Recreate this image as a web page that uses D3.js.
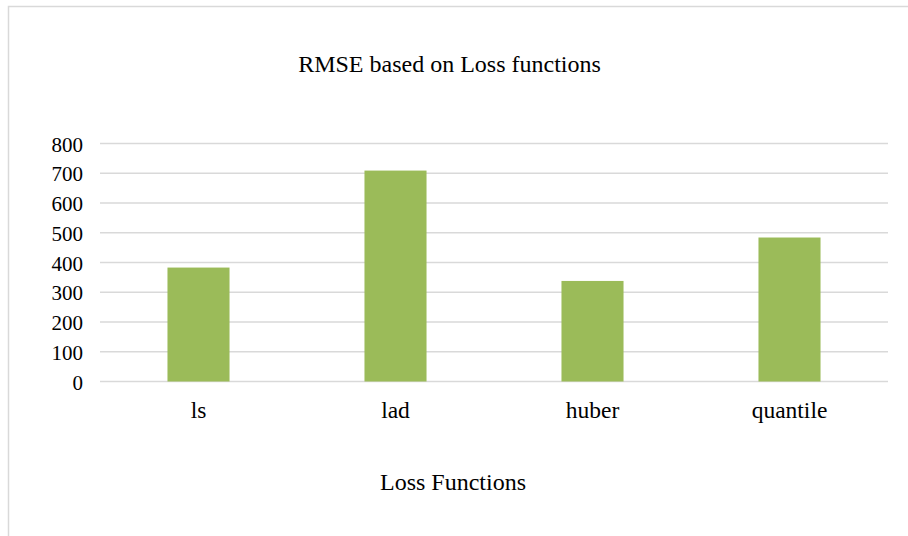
<!DOCTYPE html>
<html>
<head>
<meta charset="utf-8">
<script src="https://cdn.jsdelivr.net/npm/d3@7"></script>
<style>
  html, body { margin: 0; padding: 0; background: #fff; }
  svg { display: block; }
  svg text { font-family: "Liberation Serif", "Times New Roman", Times, "DejaVu Serif", serif; fill: #000; }
</style>
</head>
<body>
<svg id="chart" width="908" height="536"></svg>
<script>
// RMSE per loss function
const categories = ["ls", "lad", "huber", "quantile"];
const rmseValues = [383, 709, 338, 484];
const yTicks = [0, 100, 200, 300, 400, 500, 600, 700, 800];

const chartTitle = "RMSE based on Loss functions";
const xAxisTitle = "Loss Functions";

const serif = "'Liberation Serif', 'Times New Roman', Times, 'DejaVu Serif', serif";
const plot = { left: 100, right: 888, top: 143.5, bottom: 381.5 };

const svg = d3.select("#chart");

// chart area outline (continues past right and bottom edges)
svg.append("rect")
  .attr("x", 8.5).attr("y", 6.5)
  .attr("width", 1000).attr("height", 1000)
  .attr("fill", "#fff")
  .attr("stroke", "#d9d9d9")
  .attr("stroke-width", 1.5);

const x = d3.scaleBand()
  .domain(categories)
  .range([plot.left, plot.right])
  .paddingInner(0.685)
  .paddingOuter(0.3425);

const y = d3.scaleLinear()
  .domain([0, 800])
  .range([plot.bottom, plot.top]);

// horizontal gridlines
svg.append("g")
  .selectAll("line")
  .data(yTicks)
  .join("line")
  .attr("x1", plot.left).attr("x2", plot.right)
  .attr("y1", d => y(d)).attr("y2", d => y(d))
  .attr("stroke", "#d9d9d9")
  .attr("stroke-width", 1.5);

// y tick labels
const yAxis = d3.axisLeft(y).tickValues(yTicks).tickSize(0).tickPadding(0);
const gy = svg.append("g")
  .attr("transform", "translate(83,0)")
  .call(yAxis)
  .attr("font-family", serif)
  .attr("font-size", 21);
gy.select(".domain").remove();
gy.selectAll("text").style("font-family", serif).attr("fill", "#000").attr("dy", "0.36em");

// bars
svg.append("g")
  .selectAll("rect")
  .data(categories.map((c, i) => ({ c, v: rmseValues[i] })))
  .join("rect")
  .attr("x", d => x(d.c))
  .attr("width", x.bandwidth())
  .attr("y", d => y(d.v))
  .attr("height", d => y(0) - y(d.v))
  .attr("fill", "#9bbb59");

// category labels
const xAxis = d3.axisBottom(x).tickSize(0).tickPadding(0);
const gx = svg.append("g")
  .attr("transform", "translate(0,401.5)")
  .call(xAxis)
  .attr("font-family", serif)
  .attr("font-size", 23.5);
gx.select(".domain").remove();
gx.selectAll("text").style("font-family", serif).attr("fill", "#000");

// titles
svg.append("text")
  .attr("x", 449.5).attr("y", 71.5)
  .attr("text-anchor", "middle")
  .attr("font-size", 24)
  .style("font-family", serif)
  .text(chartTitle);

svg.append("text")
  .attr("x", 453).attr("y", 489.5)
  .attr("text-anchor", "middle")
  .attr("font-size", 24)
  .style("font-family", serif)
  .text(xAxisTitle);
</script>
</body>
</html>
